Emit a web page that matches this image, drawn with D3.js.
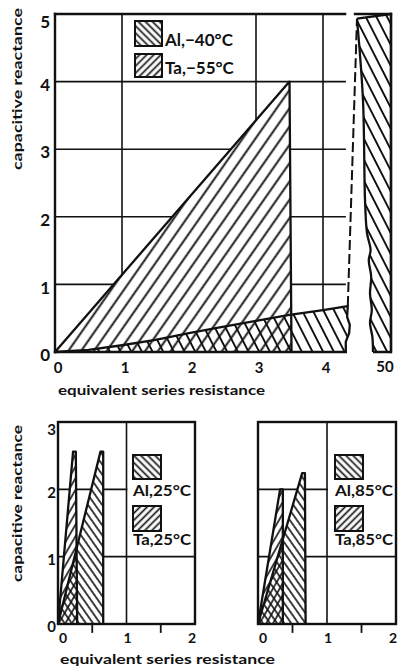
<!DOCTYPE html>
<html><head><meta charset="utf-8">
<script src="https://cdn.jsdelivr.net/npm/d3@7"></script>
<style>
body{margin:0;background:#fff}
svg{display:block}
text{font-family:Lato,"DejaVu Sans",sans-serif;font-weight:700;fill:#111}
</style>
</head><body>
<svg id="c" width="401" height="667"></svg>
<script>
// ---------- data ----------
const topXTicks = [0, 1, 2, 3, 4];
const topYTicks = [0, 1, 2, 3, 4, 5];
const topGridX = [1, 3, 4];
const topGridY = [1, 2, 3, 4];
const breakTicks = [50];
// Al, -40°C : lower region (ESR vs Xc), main part
const alM40Curve = [[0,0],[0.5,0.03],[1,0.1],[1.5,0.18],[2,0.28],[2.5,0.37],[3,0.46],[3.5,0.55],[4,0.62],[4.37,0.68]];
const alM40BreakEdge = [[4.37,0.68],[4.36,0.52],[4.40,0.40],[4.39,0.28],[4.34,0.15],[4.34,0]];
// Al, -40°C : part beyond the axis break (around ESR 50)
const alM40Far = [[45.33,4.93],[46.33,3.73],[46.67,2.25],[47,1.76],[47.6,1.51],[47.3,1.36],[47.7,1.11],[47.5,0.87],[47.8,0.62],[47.5,0.43],[47.9,0.22],[48,0],[51,0],[51,5]];
// Ta, -55°C
const taM55 = [[0,0],[3.5,4.0],[3.53,0]];

const botXTicks = [0, 1, 2];
const botMinorTicks = [0.5, 1.5];
const botYTicks = [0, 1, 2, 3];
const botGridX = [1];
const al25 = [[0,0],[0.62,2.56],[0.66,2.56],[0.66,0]];
const ta25 = [[0,0],[0.22,2.56],[0.26,2.56],[0.28,0]];
const al85 = [[0,0],[0.64,2.24],[0.68,2.24],[0.69,0]];
const ta85 = [[0,0],[0.32,2.0],[0.36,2.0],[0.36,0]];

const legendTop = ["Al,\u221240\u00B0C", "Ta,\u221255\u00B0C"];
const legend25 = ["Al,25\u00B0C", "Ta,25\u00B0C"];
const legend85 = ["Al,85\u00B0C", "Ta,85\u00B0C"];

// ---------- setup ----------
const svg = d3.select("#c");
const defs = svg.append("defs");
const INK = "#111";
function hatch(id, angle, spacing, sw){
  const p = defs.append("pattern").attr("id", id).attr("patternUnits","userSpaceOnUse")
    .attr("width", spacing).attr("height", spacing)
    .attr("patternTransform", `rotate(${angle})`);
  p.append("line").attr("x1", spacing/2).attr("x2", spacing/2)
    .attr("y1", -1).attr("y2", spacing+1)
    .attr("stroke", INK).attr("stroke-width", sw);
}
hatch("taTop", 35, 10.5, 1.9);   // "/" lines
hatch("alTop", -27, 9.5, 1.9);   // "\" lines
hatch("taBot", 30, 5.8, 1.6);
hatch("alBot", -35, 5.8, 1.6);
hatch("taLeg", 45, 5, 1.7);
hatch("alLeg", -45, 5, 1.7);

function line(x, y){ return d3.line().x(d => x(d[0])).y(d => y(d[1])); }
function seg(g, x1, y1, x2, y2, w){
  g.append("line").attr("x1",x1).attr("y1",y1).attr("x2",x2).attr("y2",y2)
   .attr("stroke", INK).attr("stroke-width", w).attr("stroke-linecap","square");
}

// ---------- top chart ----------
const xT = d3.scaleLinear([0, 4], [55, 323]);
const yT = d3.scaleLinear([0, 5], [352, 14]);
const xBrk = d3.scaleLinear([45, 51], [355, 391]);
const mainRight = 4.33;
const gT = svg.append("g");

topGridX.forEach(v => seg(gT, xT(v), yT(0), xT(v), yT(5), 1.6));
topGridY.forEach(v => seg(gT, xT(0), yT(v), xT(mainRight), yT(v), 1.6));

const lT = line(xT, yT);
const alPoly = alM40Curve.concat(alM40BreakEdge.slice(1)).concat([[0,0]]);
const lBrk = line(xBrk, yT);

[["white", alPoly, lT], ["white", taM55, lT], ["white", alM40Far, lBrk]].forEach(([f, d, l]) =>
  gT.append("path").attr("d", l(d) + "Z").attr("fill", f));
gT.append("path").attr("d", lT(alPoly) + "Z").attr("fill", "url(#alTop)");
gT.append("path").attr("d", lT(taM55) + "Z").attr("fill", "url(#taTop)");
gT.append("path").attr("d", lBrk(alM40Far) + "Z").attr("fill", "url(#alTop)");

const outline = p => p.attr("fill","none").attr("stroke",INK).attr("stroke-width",2.3).attr("stroke-linejoin","round");
gT.append("path").attr("d", lT(taM55)).call(outline);
gT.append("path").attr("d", lT(alM40Curve.concat(alM40BreakEdge.slice(1)))).call(outline);
gT.append("path").attr("d", d3.line().curve(d3.curveCatmullRom).x(d => xBrk(d[0])).y(d => yT(d[1]))(alM40Far.slice(0, 12))).call(outline);
gT.append("path").attr("d", lBrk(alM40Far.slice(11).concat([alM40Far[0]]))).call(outline);

// frame
seg(gT, xT(0), yT(0), xT(0), yT(5), 2.4);
seg(gT, xT(0), yT(5), xT(mainRight), yT(5), 2.4);
seg(gT, xT(0), yT(0), xT(4.34), yT(0), 2.4);
seg(gT, xBrk(45), yT(5), xBrk(51), yT(5), 2.4);
seg(gT, xBrk(51), yT(5), xBrk(51), yT(0), 2.4);
// dashed break connector
gT.append("line")
  .attr("x1", xT(alM40Curve[alM40Curve.length-1][0])).attr("y1", yT(alM40Curve[alM40Curve.length-1][1]))
  .attr("x2", xBrk(alM40Far[0][0])).attr("y2", yT(alM40Far[0][1]))
  .attr("stroke", INK).attr("stroke-width", 2).attr("stroke-dasharray", "10,4");

// tick labels
gT.selectAll(".xt").data(topXTicks).join("text")
  .attr("x", d => xT(d) + 3).attr("y", 373).attr("text-anchor","middle")
  .attr("font-size", 15).text(d => d);
gT.selectAll(".bt").data(breakTicks).join("text")
  .attr("x", d => xBrk(d)).attr("y", 372).attr("text-anchor","middle")
  .attr("font-size", 15).text(d => d);
gT.selectAll(".yt").data(topYTicks).join("text")
  .attr("x", 50).attr("y", d => Math.max(yT(d) + 3, 22)).attr("dy", "0.36em")
  .attr("text-anchor","end").attr("font-size", 17).text(d => d);

gT.append("text").attr("x", 58).attr("y", 395).attr("font-size", 13)
  .attr("textLength", 207).attr("lengthAdjust","spacingAndGlyphs")
  .text("equivalent series resistance");
gT.append("text").attr("transform", "translate(22,170) rotate(-90)").attr("font-size", 13)
  .attr("textLength", 162).attr("lengthAdjust","spacingAndGlyphs")
  .text("capacitive reactance");

// legend top
const legT = [{pat:"alLeg", y:21, h:25, ty:46}, {pat:"taLeg", y:54, h:23, ty:74}];
legT.forEach((L, i) => {
  gT.append("rect").attr("x",135).attr("y",L.y).attr("width",27).attr("height",L.h).attr("fill","white");
  gT.append("rect").attr("x",135).attr("y",L.y).attr("width",27).attr("height",L.h)
    .attr("fill",`url(#${L.pat})`).attr("stroke",INK).attr("stroke-width",2);
  gT.append("text").attr("x",165).attr("y",L.ty).attr("font-size",17).text(legendTop[i]);
});

// ---------- bottom charts ----------
const yB = d3.scaleLinear([0, 3], [624, 422]);
function bottomChart(x, al, ta, labels, legendX, showY){
  const g = svg.append("g");
  botGridX.forEach(v => seg(g, x(v), yB(0), x(v), yB(3), 1.6));
  seg(g, x(0), yB(2), x(1), yB(2), 1.6);
  seg(g, x(0), yB(1), x(2), yB(1), 1.6);
  const l = line(x, yB);
  g.append("path").attr("d", l(al) + "Z").attr("fill","white");
  g.append("path").attr("d", l(ta) + "Z").attr("fill","white");
  g.append("path").attr("d", l(al) + "Z").attr("fill","url(#alBot)");
  g.append("path").attr("d", l(ta) + "Z").attr("fill","url(#taBot)");
  g.append("path").attr("d", l(al)).call(outline);
  g.append("path").attr("d", l(ta)).call(outline);
  // frame
  g.append("rect").attr("x", x(0)).attr("y", yB(3)).attr("width", x(2)-x(0)).attr("height", yB(0)-yB(3))
    .attr("fill","none").attr("stroke",INK).attr("stroke-width",2.4);
  botMinorTicks.forEach(v => seg(g, x(v), yB(0), x(v), yB(0)+8, 1.8));
  g.selectAll(".xt").data(botXTicks).join("text")
    .attr("x", d => x(d) + (d === 0 ? 5 : d === 1 ? 1 : -3)).attr("y", 643).attr("text-anchor","middle")
    .attr("font-size", 14).text(d => d);
  if (showY){
    g.selectAll(".yt").data(botYTicks).join("text")
      .attr("x", 56).attr("y", d => Math.max(yB(d) + 3, 430)).attr("dy","0.36em")
      .attr("text-anchor","end").attr("font-size", 15).text(d => d);
  }
  const leg = [{pat:"alLeg", y:455, h:24, ty:496}, {pat:"taLeg", y:506, h:25, ty:545}];
  leg.forEach((L, i) => {
    g.append("rect").attr("x",legendX).attr("y",L.y).attr("width",28).attr("height",L.h).attr("fill","white");
    g.append("rect").attr("x",legendX).attr("y",L.y).attr("width",28).attr("height",L.h)
      .attr("fill",`url(#${L.pat})`).attr("stroke",INK).attr("stroke-width",2);
    g.append("text").attr("x",legendX).attr("y",L.ty).attr("font-size",15)
      .attr("textLength", 58).attr("lengthAdjust","spacingAndGlyphs").text(labels[i]);
  });
  return g;
}
const xL = d3.scaleLinear([0, 2], [58, 195]);
const xR = d3.scaleLinear([0, 2], [258, 396]);
bottomChart(xL, al25, ta25, legend25, 133, true);
bottomChart(xR, al85, ta85, legend85, 335, false);

svg.append("text").attr("x", 60).attr("y", 664).attr("font-size", 13)
  .attr("textLength", 215).attr("lengthAdjust","spacingAndGlyphs")
  .text("equivalent series resistance");
svg.append("text").attr("transform", "translate(22,582) rotate(-90)").attr("font-size", 13)
  .attr("textLength", 157).attr("lengthAdjust","spacingAndGlyphs")
  .text("capacitive reactance");
</script>
</body></html>
